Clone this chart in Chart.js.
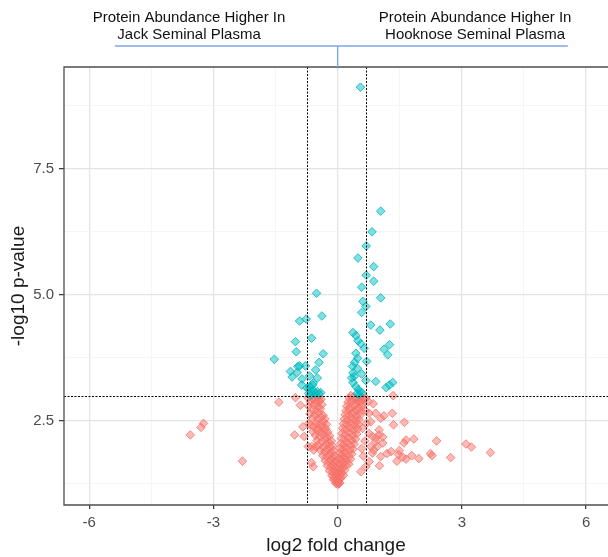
<!DOCTYPE html>
<html><head><meta charset="utf-8">
<script src="https://cdn.jsdelivr.net/npm/chart.js@4/dist/chart.umd.min.js"></script>
<style>html,body{margin:0;padding:0;overflow:hidden;background:#fff}canvas{display:block}</style>
</head><body>
<canvas id="c" width="608" height="557"></canvas>
<script>
// ---- tick values ----
const xMajorTicks = [-6, -3, 0, 3, 6];
const xMinorTicks = [-4.5, -1.5, 1.5, 4.5];
const yMajorTicks = [2.5, 5.0, 7.5];
const yMinorTicks = [1.25, 3.75, 6.25, 8.75];
// ---- thresholds ----
const pThreshold = 3.0;
const fcThresholds = [-0.75, 0.69];
// ---- header texts ----
const headerLeft = ['Protein Abundance Higher In', 'Jack Seminal Plasma'];
const headerRight = ['Protein Abundance Higher In', 'Hooknose Seminal Plasma'];
const xTitle = 'log2 fold change';
const yTitle = '-log10 p-value';

// ---- significant proteins [log2FC, -log10 p] ----
const sigPoints = [
 [0.55,9.12],[1.04,6.66],[0.83,6.25],[0.69,5.97],[0.49,5.73],[0.87,5.56],[0.69,5.39],[0.87,5.27],
 [0.58,5.15],[-0.51,5.03],[1.04,4.94],[0.61,4.87],[0.68,4.77],[0.58,4.65],[-0.38,4.58],[-0.76,4.52],
 [-0.92,4.48],[1.27,4.42],[0.80,4.40],[1.02,4.30],[0.37,4.25],[0.44,4.19],[-0.63,4.14],[-1.02,4.07],
 [0.49,4.09],[0.56,4.03],[0.64,3.94],[1.25,4.01],[1.12,3.92],[-1.00,3.87],[0.44,3.84],[-0.35,3.83],
 [1.21,3.81],[0.48,3.74],[-1.53,3.72],[-0.45,3.66],[0.41,3.66],[-0.92,3.59],[-0.78,3.59],[0.36,3.58],
 [-0.53,3.51],[0.48,3.54],[-1.14,3.48],[-0.98,3.46],[0.37,3.45],[0.58,3.43],[-0.68,3.39],[-1.10,3.37],
 [-0.49,3.35],[0.34,3.35],[-0.86,3.33],[0.68,3.30],[0.92,3.28],[1.33,3.26],[0.37,3.26],[-0.59,3.25],
 [-0.87,3.21],[1.25,3.21],[1.17,3.16],[0.44,3.18],[-0.67,3.18],[0.50,3.12],[-0.70,3.13],[-0.62,3.08],
 [-0.49,3.08],[-0.55,3.05],[-0.41,3.06],[-0.70,3.04],[0.52,3.02],[0.58,3.06],[0.70,3.68],[0.40,3.38],
 [-0.58,3.10],[-0.45,3.03],[-0.64,3.01],[0.55,3.08],[0.47,3.04],[-0.96,3.58],[-0.74,3.15],[-0.60,3.21]
];

// ---- non-significant proteins [log2FC, -log10 p] ----
const nonSigPoints = [
 // left scatter
 [-3.56,2.22],[-3.30,2.37],[-3.24,2.45],[-2.30,1.70],[-1.42,2.87],[-1.02,2.96],[-1.04,2.22],[-0.90,2.81],
 [-0.84,2.38],[-0.81,2.19],[-0.63,1.67],[-0.66,2.42],[-0.62,1.99],[-0.58,1.92],[-0.70,2.45],[-0.71,1.99],
 [-0.58,2.92],[-0.47,2.95],[-0.53,1.99],[-0.59,1.59],
 // right scatter
 [1.34,3.00],[1.32,2.65],[1.35,2.42],[1.61,2.47],[1.84,2.14],[1.65,2.12],[1.60,2.06],[2.39,2.10],
 [3.10,2.04],[3.23,1.98],[3.69,1.87],[2.73,1.77],[2.24,1.85],[2.28,1.81],[1.96,1.75],[1.79,1.81],
 [1.65,1.74],[1.57,1.78],[1.49,1.91],[1.47,1.83],[1.43,1.70],[1.29,1.89],
 [0.92,2.65],[1.04,2.55],[1.12,2.60],[0.76,2.25],[0.84,2.19],[1.00,2.22],[1.09,2.18],[1.00,2.32],
 [0.92,2.09],[0.80,1.99],[0.87,1.92],[1.04,1.79],[1.19,1.85],[1.01,1.61],[0.76,2.65],[0.92,2.16],
 [1.09,2.06],[0.96,1.99],[0.84,1.86],[0.76,1.69],[0.68,1.59],[0.56,1.49],[0.32,3.00],[0.44,2.93],
 [0.61,2.92],[0.68,2.95],[0.60,2.35],[0.66,2.10],[0.58,1.95],[0.62,1.80],[0.70,2.45],[0.67,2.70],
 [0.74,2.88],[0.80,2.48],[0.86,2.84],
 // left arm of the V
 [-0.72,2.96],[-0.60,2.94],[-0.48,2.97],[-0.40,2.93],[-0.66,2.88],[-0.53,2.86],[-0.44,2.89],
 [-0.70,2.79],[-0.58,2.81],[-0.47,2.78],[-0.38,2.82],[-0.62,2.73],[-0.51,2.70],[-0.42,2.74],
 [-0.67,2.64],[-0.55,2.62],[-0.45,2.66],[-0.35,2.61],[-0.60,2.56],[-0.49,2.53],[-0.40,2.57],[-0.31,2.54],
 [-0.52,2.45],[-0.43,2.44],[-0.34,2.48],[-0.27,2.43],[-0.57,2.38],[-0.47,2.36],[-0.37,2.39],[-0.29,2.35],
 [-0.60,2.29],[-0.50,2.31],[-0.41,2.27],[-0.32,2.30],[-0.24,2.28],[-0.54,2.21],[-0.44,2.19],[-0.35,2.22],
 [-0.26,2.18],[-0.19,2.20],[-0.50,2.11],[-0.39,2.09],[-0.30,2.12],[-0.22,2.08],[-0.15,2.10],
 [-0.46,2.01],[-0.35,1.98],[-0.27,2.02],[-0.19,1.99],[-0.12,2.00],[-0.41,1.91],[-0.31,1.89],[-0.23,1.92],
 [-0.16,1.88],[-0.10,1.90],[-0.36,1.81],[-0.27,1.79],[-0.19,1.82],[-0.12,1.78],[-0.07,1.80],
 [-0.30,1.71],[-0.22,1.69],[-0.15,1.72],[-0.09,1.68],[-0.04,1.70],[-0.25,1.61],[-0.17,1.59],[-0.11,1.62],
 [-0.06,1.58],[-0.20,1.51],[-0.13,1.49],[-0.08,1.52],[-0.03,1.48],[-0.14,1.41],[-0.09,1.39],[-0.04,1.42],
 [-0.10,1.33],[-0.05,1.31],[-0.02,1.34],[-0.04,1.26],[0.00,1.24],[0.03,1.25],
 // right arm of the V
 [0.28,2.95],[0.38,2.97],[0.47,2.93],[0.56,2.96],[0.63,2.94],[0.25,2.87],[0.34,2.89],[0.44,2.86],
 [0.53,2.88],[0.61,2.85],[0.22,2.79],[0.31,2.77],[0.41,2.80],[0.50,2.76],[0.59,2.79],[0.20,2.70],
 [0.29,2.72],[0.38,2.68],[0.47,2.71],[0.56,2.69],[0.18,2.62],[0.27,2.60],[0.36,2.63],[0.45,2.59],
 [0.54,2.61],[0.16,2.53],[0.25,2.51],[0.34,2.54],[0.43,2.50],[0.52,2.52],[0.14,2.44],[0.23,2.42],
 [0.32,2.45],[0.41,2.41],[0.50,2.43],[0.12,2.35],[0.21,2.33],[0.30,2.36],[0.39,2.32],[0.48,2.34],
 [0.10,2.25],[0.19,2.23],[0.28,2.26],[0.37,2.22],[0.46,2.24],[0.09,2.15],[0.17,2.13],[0.26,2.16],
 [0.34,2.12],[0.43,2.14],[0.07,2.05],[0.15,2.03],[0.23,2.06],[0.31,2.02],[0.40,2.04],[0.06,1.95],
 [0.13,1.93],[0.21,1.96],[0.29,1.92],[0.37,1.94],[0.05,1.85],[0.11,1.83],[0.18,1.86],[0.26,1.82],
 [0.34,1.84],[0.04,1.75],[0.10,1.73],[0.16,1.76],[0.23,1.72],[0.31,1.74],[0.03,1.65],[0.08,1.63],
 [0.14,1.66],[0.20,1.62],[0.27,1.64],[0.02,1.55],[0.07,1.53],[0.12,1.56],[0.17,1.52],[0.02,1.45],
 [0.06,1.43],[0.10,1.46],[0.14,1.42],[0.01,1.36],[0.05,1.34],[0.08,1.37],[0.02,1.29],[0.05,1.27]
];

const FONT = '"Liberation Sans", Arial, Helvetica, sans-serif';
const isMajorX = v => xMajorTicks.includes(v);
const isMajorY = v => yMajorTicks.some(t => Math.abs(t - v) < 1e-9);

const overlay = {
  id: 'overlay',
  afterDatasetsDraw(chart) {
    const {ctx, chartArea: a, scales: {x, y}} = chart;
    ctx.save();
    // threshold lines
    ctx.strokeStyle = '#000';
    ctx.lineWidth = 1;
    ctx.setLineDash([2, 1.5]);
    const yp = Math.round(y.getPixelForValue(pThreshold)) + 0.5;
    ctx.beginPath(); ctx.moveTo(a.left, yp); ctx.lineTo(a.right, yp); ctx.stroke();
    fcThresholds.forEach(v => {
      const xp = Math.round(x.getPixelForValue(v)) + 0.5;
      ctx.beginPath(); ctx.moveTo(xp, a.top); ctx.lineTo(xp, a.bottom); ctx.stroke();
    });
    ctx.setLineDash([]);
    // panel border (right edge lies outside the picture)
    ctx.strokeStyle = '#4d4d4d';
    ctx.lineWidth = 1.3;
    ctx.beginPath();
    ctx.moveTo(a.right + 4, a.top); ctx.lineTo(a.left, a.top);
    ctx.lineTo(a.left, a.bottom); ctx.lineTo(a.right + 4, a.bottom);
    ctx.stroke();
    // header bracket
    const x0 = x.getPixelForValue(0);
    ctx.strokeStyle = '#7fa7e3';
    ctx.lineWidth = 1.4;
    ctx.beginPath();
    ctx.moveTo(x.getPixelForValue(-5.38), 46); ctx.lineTo(x.getPixelForValue(5.56), 46);
    ctx.moveTo(x0, 46); ctx.lineTo(x0, a.top);
    ctx.stroke();
    // header texts
    ctx.fillStyle = '#111';
    ctx.font = '15px ' + FONT;
    ctx.textAlign = 'center';
    ctx.textBaseline = 'middle';
    const lx = x.getPixelForValue(-3.59), rx = x.getPixelForValue(3.32);
    headerLeft.forEach((t, i) => ctx.fillText(t, lx, 18 + i * 17));
    headerRight.forEach((t, i) => ctx.fillText(t, rx, 18 + i * 17));
    ctx.restore();
  }
};

const pts = arr => arr.map(p => ({x: p[0], y: p[1]}));

new Chart(document.getElementById('c'), {
  type: 'scatter',
  data: {
    datasets: [
      {
        label: 'significant',
        data: pts(sigPoints),
        pointStyle: 'rectRot',
        pointRadius: 4.3,
        borderWidth: 1,
        backgroundColor: 'rgba(0,191,196,0.5)',
        borderColor: 'rgba(0,180,186,0.8)'
      },
      {
        label: 'not significant',
        data: pts(nonSigPoints),
        pointStyle: 'rectRot',
        pointRadius: 4.3,
        borderWidth: 1,
        backgroundColor: 'rgba(248,118,109,0.5)',
        borderColor: 'rgba(245,110,100,0.75)'
      }
    ]
  },
  options: {
    responsive: false,
    animation: false,
    events: [],
    layout: {autoPadding: false, padding: {top: 67, right: 0, left: 0, bottom: 0}},
    plugins: {legend: {display: false}, tooltip: {enabled: false}},
    scales: {
      x: {
        type: 'linear', min: -6.61, max: 6.53,
        afterBuildTicks: s => { s.ticks = [...xMinorTicks, ...xMajorTicks].sort((a, b) => a - b).map(v => ({value: v})); },
        afterFit: s => { s.height = 52; },
        border: {display: false},
        grid: {
          color: c => isMajorX(c.tick.value) ? '#e4e4e4' : '#f3f3f3',
          lineWidth: c => isMajorX(c.tick.value) ? 1.3 : 0.8,
          tickColor: c => isMajorX(c.tick.value) ? '#333' : 'rgba(0,0,0,0)',
          tickWidth: 1.2,
          tickLength: 4
        },
        ticks: {
          autoSkip: false, maxRotation: 0, padding: 5,
          color: '#4d4d4d',
          font: {size: 15, family: FONT},
          callback: v => isMajorX(v) ? String(v) : ''
        },
        title: {display: true, text: xTitle, color: '#1a1a1a', font: {size: 19, family: FONT}, padding: {top: 0, bottom: 0}}
      },
      y: {
        type: 'linear', min: 0.83, max: 9.52,
        afterBuildTicks: s => { s.ticks = [...yMinorTicks, ...yMajorTicks].sort((a, b) => a - b).map(v => ({value: v})); },
        afterFit: s => { s.width = 64; },
        border: {display: false},
        grid: {
          color: c => isMajorY(c.tick.value) ? '#e4e4e4' : '#f3f3f3',
          lineWidth: c => isMajorY(c.tick.value) ? 1.3 : 0.8,
          tickColor: c => isMajorY(c.tick.value) ? '#333' : 'rgba(0,0,0,0)',
          tickWidth: 1.2,
          tickLength: 5
        },
        ticks: {
          autoSkip: false, padding: 5,
          color: '#4d4d4d',
          font: {size: 15, family: FONT},
          callback: v => isMajorY(v) ? v.toFixed(1) : ''
        },
        title: {display: true, text: yTitle, color: '#1a1a1a', font: {size: 19, family: FONT}, padding: {top: 7, bottom: 0}}
      }
    }
  },
  plugins: [overlay]
});
</script>
</body></html>
